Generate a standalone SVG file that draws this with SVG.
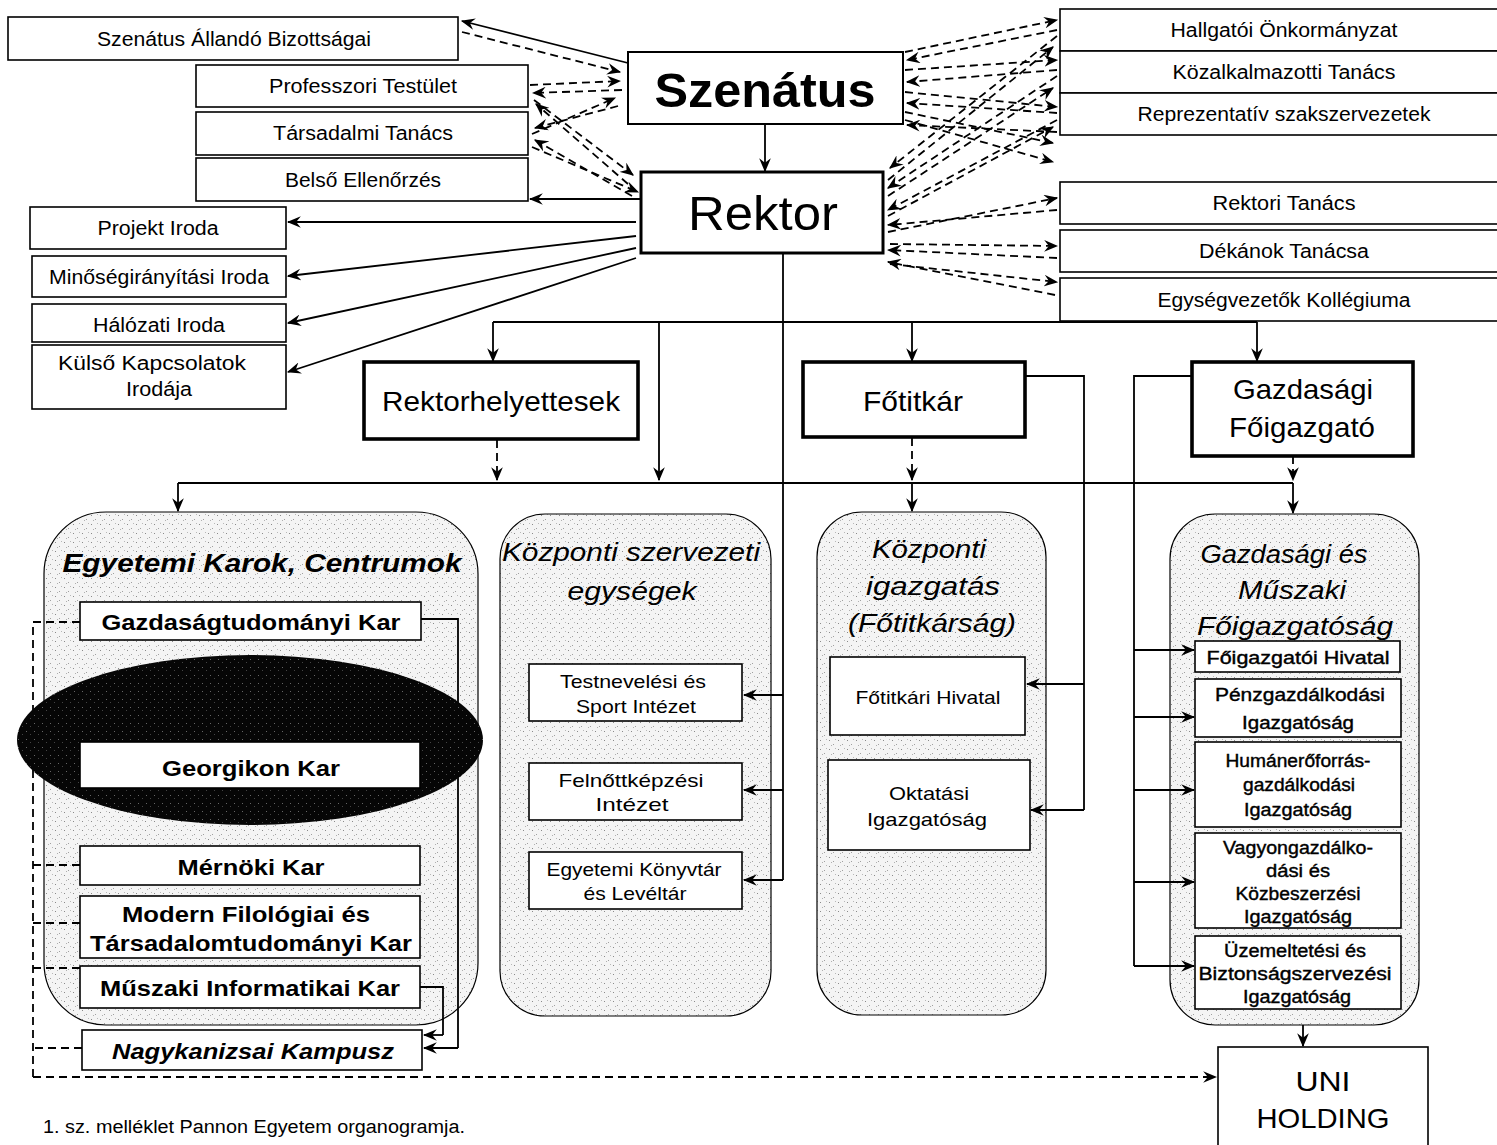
<svg xmlns="http://www.w3.org/2000/svg" width="1497" height="1145" viewBox="0 0 1497 1145">
  <defs>
    <style>
      text { font-family: "Liberation Sans", Arial, sans-serif; fill: #000; text-anchor: middle; }
      .box { fill: #fff; stroke: #000; stroke-width: 1.6; }
      .thick { fill: #fff; stroke: #000; stroke-width: 3.6; }
      .cont { fill: url(#stip); stroke: #000; stroke-width: 1.2; }
      .ln { fill: none; stroke: #000; stroke-width: 1.8; }
      .dash { stroke-dasharray: 8 5; }
      .arr { marker-end: url(#ah); }
      .t19 { font-size: 20px; }
      .t18 { font-size: 19px; }
      .med { font-size: 18px; stroke: #000; stroke-width: 0.4; }
      .kar { font-size: 22px; font-weight: bold; }
      .big { font-size: 28px; }
      .head { font-size: 26px; font-style: italic; }
    </style>
    <pattern id="stip" width="9" height="9" patternUnits="userSpaceOnUse">
      <rect width="9" height="9" fill="#f4f4f4"/>
      <rect x="1" y="2" width="1" height="1" fill="#8a8a8a"/>
      <rect x="5" y="6" width="1" height="1" fill="#a0a0a0"/>
      <rect x="7" y="1" width="1" height="1" fill="#b8b8b8"/>
      <rect x="3" y="7" width="1" height="1" fill="#b0b0b0"/>
    </pattern>
    <pattern id="dark" width="8" height="8" patternUnits="userSpaceOnUse">
      <rect width="8" height="8" fill="#060606"/>
      <rect x="2" y="3" width="1" height="1" fill="#666"/>
      <rect x="6" y="6" width="1" height="1" fill="#444"/>
    </pattern>
    <marker id="ah" viewBox="0 0 12 10" refX="11" refY="5" markerWidth="14" markerHeight="12" markerUnits="userSpaceOnUse" orient="auto">
      <path d="M0,0 L12,5 L0,10 L4,5 z" fill="#000"/>
    </marker>
  </defs>

  <rect width="1497" height="1145" fill="#fff"/>

  <!-- grouping containers -->
  <g id="karok-container"><rect class="cont" x="44" y="512" width="434" height="513" rx="62" ry="62"/></g>
  <g id="kozponti-szervezeti-container"><rect class="cont" x="500" y="514" width="271" height="502" rx="45" ry="45"/></g>
  <g id="kozponti-igazgatas-container"><rect class="cont" x="817" y="512" width="229" height="503" rx="45" ry="45"/></g>
  <g id="gazdasagi-container"><rect class="cont" x="1170" y="514" width="249" height="511" rx="45" ry="45"/></g>

  <!-- connectors -->
  <g id="connectors">
    <!-- Szenátus / Rektor to the left-hand bodies -->
    <path class="ln" d="M628,63 L462,21" marker-end="url(#ah)"/>
    <path class="ln dash arr" d="M462,32 L620,72"/>
    <path class="ln dash arr" d="M530,85 L620,81"/>
    <path class="ln dash arr" d="M622,90 L533,93"/>
    <path class="ln dash arr" d="M532,134 L615,98"/>
    <path class="ln dash arr" d="M618,106 L535,128"/>
    <path class="ln dash arr" d="M534,100 L633,175"/>
    <path class="ln dash arr" d="M628,184 L536,104"/>
    <path class="ln dash arr" d="M532,147 L638,192"/>
    <path class="ln dash arr" d="M632,196 L535,140"/>
    <path class="ln arr" d="M641,199 L530,199"/>
    <path class="ln arr" d="M636,222 L288,222"/>
    <path class="ln arr" d="M636,236 L288,276"/>
    <path class="ln arr" d="M636,248 L288,323"/>
    <path class="ln arr" d="M636,258 L288,372"/>

    <!-- Szenátus to right-hand bodies -->
    <path class="ln dash arr" d="M905,52 L1057,20"/>
    <path class="ln dash arr" d="M905,70 L1057,60"/>
    <path class="ln dash arr" d="M905,92 L1057,107"/>
    <path class="ln dash arr" d="M905,112 L1053,143"/>
    <path class="ln dash arr" d="M905,120 L1053,162"/>
    <path class="ln dash arr" d="M1057,30 L907,60"/>
    <path class="ln dash arr" d="M1057,70 L907,82"/>
    <path class="ln dash arr" d="M1057,113 L907,103"/>
    <path class="ln dash arr" d="M1057,132 L907,125"/>

    <!-- Rektor to right-hand bodies -->
    <path class="ln dash arr" d="M1057,36 L890,168"/>
    <path class="ln dash arr" d="M1057,76 L888,188"/>
    <path class="ln dash arr" d="M1057,120 L888,210"/>
    <path class="ln dash arr" d="M1057,210 L888,225"/>
    <path class="ln dash arr" d="M1057,258 L888,250"/>
    <path class="ln dash arr" d="M1055,295 L888,262"/>
    <path class="ln dash arr" d="M888,180 L1053,47"/>
    <path class="ln dash arr" d="M888,196 L1053,88"/>
    <path class="ln dash arr" d="M888,216 L1053,127"/>
    <path class="ln dash arr" d="M888,232 L1057,198"/>
    <path class="ln dash arr" d="M890,244 L1057,246"/>
    <path class="ln dash arr" d="M890,264 L1057,282"/>

    <!-- Szenátus down to Rektor -->
    <path class="ln arr" d="M765,124 L765,171"/>

    <!-- Rektor branch bar -->
    <path class="ln" d="M493,322 L1257,322"/>
    <path class="ln arr" d="M493,322 L493,361"/>
    <path class="ln arr" d="M659,322 L659,480"/>
    <path class="ln arr" d="M912,322 L912,361"/>
    <path class="ln arr" d="M1257,322 L1257,361"/>
    <path class="ln" d="M783,253 L783,880"/>

    <!-- Rektor to central units -->
    <path class="ln arr" d="M783,695 L744,695"/>
    <path class="ln arr" d="M783,790 L744,790"/>
    <path class="ln arr" d="M783,880 L744,880"/>

    <!-- second distribution bar -->
    <path class="ln" d="M178,483 L1293,483"/>
    <path class="ln arr" d="M178,483 L178,511"/>
    <path class="ln dash arr" d="M497,440 L497,480"/>
    <path class="ln dash arr" d="M912,438 L912,480"/>
    <path class="ln arr" d="M912,483 L912,511"/>
    <path class="ln dash arr" d="M1293,456 L1293,480"/>
    <path class="ln arr" d="M1293,483 L1293,513"/>

    <!-- Főtitkár to its offices -->
    <path class="ln" d="M1025,376 L1084,376 L1084,810"/>
    <path class="ln arr" d="M1084,684 L1027,684"/>
    <path class="ln arr" d="M1084,810 L1031,810"/>

    <!-- Gazdasági Főigazgató to its directorates -->
    <path class="ln" d="M1192,376 L1134,376 L1134,966"/>
    <path class="ln arr" d="M1134,650 L1194,650"/>
    <path class="ln arr" d="M1134,717 L1194,717"/>
    <path class="ln arr" d="M1134,790 L1194,790"/>
    <path class="ln arr" d="M1134,882 L1194,882"/>
    <path class="ln arr" d="M1134,966 L1194,966"/>
    <path class="ln arr" d="M1303,1025 L1303,1046"/>

    <!-- faculties to Nagykanizsa campus -->
    <path class="ln" d="M421,619 L458,619 L458,1048"/>
    <path class="ln arr" d="M458,1048 L424,1048"/>
    <path class="ln" d="M420,987 L443,987 L443,1035"/>
    <path class="ln arr" d="M443,1035 L424,1035"/>

    <!-- faculties to UNI HOLDING (dashed) -->
    <path class="ln dash" d="M80,622 L33,622 L33,1077"/>
    <path class="ln dash" d="M80,865 L33,865"/>
    <path class="ln dash" d="M80,923 L33,923"/>
    <path class="ln dash" d="M80,968 L33,968"/>
    <path class="ln dash" d="M82,1048 L33,1048"/>
    <path class="ln dash arr" d="M33,1077 L1216,1077"/>
  </g>

  <!-- Georgikon highlight -->
  <ellipse cx="250" cy="740" rx="233" ry="85" fill="url(#dark)"/>

  <!-- top left bodies -->
  <g id="szenatus-allando"><rect class="box" x="8" y="17" width="450" height="43"/><text class="t19" x="234" y="46" textLength="274" lengthAdjust="spacingAndGlyphs">Szenátus Állandó Bizottságai</text></g>
  <g id="professzori"><rect class="box" x="196" y="65" width="332" height="42"/><text class="t19" x="363" y="93" textLength="188" lengthAdjust="spacingAndGlyphs">Professzori Testület</text></g>
  <g id="tarsadalmi"><rect class="box" x="196" y="112" width="332" height="43"/><text class="t19" x="363" y="140" textLength="180" lengthAdjust="spacingAndGlyphs">Társadalmi Tanács</text></g>
  <g id="belso"><rect class="box" x="196" y="158" width="332" height="43"/><text class="t19" x="363" y="187" textLength="156" lengthAdjust="spacingAndGlyphs">Belső Ellenőrzés</text></g>
  <g id="projekt"><rect class="box" x="30" y="207" width="256" height="42"/><text class="t19" x="158" y="235" textLength="121" lengthAdjust="spacingAndGlyphs">Projekt Iroda</text></g>
  <g id="minoseg"><rect class="box" x="32" y="256" width="254" height="41"/><text class="t19" x="159" y="284" textLength="220" lengthAdjust="spacingAndGlyphs">Minőségirányítási Iroda</text></g>
  <g id="halozati"><rect class="box" x="32" y="304" width="254" height="38"/><text class="t19" x="159" y="332" textLength="132" lengthAdjust="spacingAndGlyphs">Hálózati Iroda</text></g>
  <g id="kulso"><rect class="box" x="32" y="345" width="254" height="64"/><text class="t19" x="152" y="370" textLength="188" lengthAdjust="spacingAndGlyphs">Külső Kapcsolatok</text><text class="t19" x="159" y="396" textLength="66" lengthAdjust="spacingAndGlyphs">Irodája</text></g>

  <!-- governing bodies -->
  <g id="szenatus"><rect class="box" x="628" y="52" width="275" height="72" style="stroke-width:2"/><text x="765" y="107" style="font-size:48px;font-weight:bold" textLength="221" lengthAdjust="spacingAndGlyphs">Szenátus</text></g>
  <g id="rektor"><rect class="box" x="641" y="172" width="242" height="81" style="stroke-width:3"/><text x="763" y="230" style="font-size:48px" textLength="150" lengthAdjust="spacingAndGlyphs">Rektor</text></g>

  <!-- top right bodies -->
  <g id="hallgatoi"><rect class="box" x="1060" y="9" width="440" height="42"/><text class="t19" x="1284" y="37" textLength="227" lengthAdjust="spacingAndGlyphs">Hallgatói Önkormányzat</text></g>
  <g id="kozalkalmazotti"><rect class="box" x="1060" y="51" width="440" height="42"/><text class="t19" x="1284" y="79" textLength="223" lengthAdjust="spacingAndGlyphs">Közalkalmazotti Tanács</text></g>
  <g id="reprezentativ"><rect class="box" x="1060" y="93" width="440" height="42"/><text class="t19" x="1284" y="121" textLength="293" lengthAdjust="spacingAndGlyphs">Reprezentatív szakszervezetek</text></g>
  <g id="rektori-tanacs"><rect class="box" x="1060" y="182" width="440" height="42"/><text class="t19" x="1284" y="210" textLength="143" lengthAdjust="spacingAndGlyphs">Rektori Tanács</text></g>
  <g id="dekanok"><rect class="box" x="1060" y="230" width="440" height="42"/><text class="t19" x="1284" y="258" textLength="170" lengthAdjust="spacingAndGlyphs">Dékánok Tanácsa</text></g>
  <g id="egysegvezetok"><rect class="box" x="1060" y="278" width="440" height="43"/><text class="t19" x="1284" y="307" textLength="253" lengthAdjust="spacingAndGlyphs">Egységvezetők Kollégiuma</text></g>

  <!-- second level leaders -->
  <g id="rektorhelyettesek"><rect class="thick" x="364" y="362" width="274" height="77"/><text class="big" x="501" y="411" textLength="238" lengthAdjust="spacingAndGlyphs">Rektorhelyettesek</text></g>
  <g id="fotitkar"><rect class="thick" x="803" y="362" width="222" height="75"/><text class="big" x="913" y="411" textLength="100" lengthAdjust="spacingAndGlyphs">Főtitkár</text></g>
  <g id="gazdasagi-foigazgato"><rect class="thick" x="1192" y="362" width="221" height="94"/><text class="big" x="1303" y="399" textLength="140" lengthAdjust="spacingAndGlyphs">Gazdasági</text><text class="big" x="1302" y="437" textLength="146" lengthAdjust="spacingAndGlyphs">Főigazgató</text></g>

  <!-- container titles -->
  <g id="karok-title"><text class="head" x="262" y="572" style="font-weight:bold" textLength="399" lengthAdjust="spacingAndGlyphs">Egyetemi Karok, Centrumok</text></g>
  <g id="kozponti-szervezeti-title"><text class="head" x="631" y="561" textLength="258" lengthAdjust="spacingAndGlyphs">Központi szervezeti</text><text class="head" x="632" y="600" textLength="129" lengthAdjust="spacingAndGlyphs">egységek</text></g>
  <g id="kozponti-igazgatas-title"><text class="head" x="929" y="558" textLength="114" lengthAdjust="spacingAndGlyphs">Központi</text><text class="head" x="933" y="595" textLength="134" lengthAdjust="spacingAndGlyphs">igazgatás</text><text class="head" x="932" y="632" textLength="168" lengthAdjust="spacingAndGlyphs">(Főtitkárság)</text></g>
  <g id="gazdasagi-title"><text class="head" x="1284" y="563" textLength="167" lengthAdjust="spacingAndGlyphs">Gazdasági és</text><text class="head" x="1292" y="599" textLength="108" lengthAdjust="spacingAndGlyphs">Műszaki</text><text class="head" x="1295" y="635" textLength="196" lengthAdjust="spacingAndGlyphs">Főigazgatóság</text></g>

  <!-- faculties -->
  <g id="gtk"><rect class="box" x="80" y="602" width="341" height="38"/><text class="kar" x="251" y="630" textLength="299" lengthAdjust="spacingAndGlyphs">Gazdaságtudományi Kar</text></g>
  <g id="georgikon"><rect class="box" x="80" y="742" width="340" height="46"/><text class="kar" x="251" y="776" textLength="178" lengthAdjust="spacingAndGlyphs">Georgikon Kar</text></g>
  <g id="mernoki"><rect class="box" x="80" y="846" width="340" height="39"/><text class="kar" x="251" y="875" textLength="147" lengthAdjust="spacingAndGlyphs">Mérnöki Kar</text></g>
  <g id="mftk"><rect class="box" x="80" y="896" width="340" height="62"/><text class="kar" x="246" y="922" textLength="248" lengthAdjust="spacingAndGlyphs">Modern Filológiai és</text><text class="kar" x="251" y="951" textLength="322" lengthAdjust="spacingAndGlyphs">Társadalomtudományi Kar</text></g>
  <g id="mik"><rect class="box" x="80" y="966" width="340" height="42"/><text class="kar" x="250" y="996" textLength="300" lengthAdjust="spacingAndGlyphs">Műszaki Informatikai Kar</text></g>
  <g id="nagykanizsa"><rect class="box" x="82" y="1030" width="340" height="40"/><text class="kar" x="253" y="1059" style="font-style:italic" textLength="282" lengthAdjust="spacingAndGlyphs">Nagykanizsai Kampusz</text></g>

  <!-- central organisational units -->
  <g id="testneveles"><rect class="box" x="529" y="664" width="213" height="57"/><text class="t18" x="633" y="688" textLength="146" lengthAdjust="spacingAndGlyphs">Testnevelési és</text><text class="t18" x="636" y="713" textLength="120" lengthAdjust="spacingAndGlyphs">Sport Intézet</text></g>
  <g id="felnottkepzes"><rect class="box" x="529" y="763" width="213" height="57"/><text class="t18" x="631" y="787" textLength="145" lengthAdjust="spacingAndGlyphs">Felnőttképzési</text><text class="t18" x="632" y="811" textLength="73" lengthAdjust="spacingAndGlyphs">Intézet</text></g>
  <g id="konyvtar"><rect class="box" x="529" y="852" width="213" height="57"/><text class="t18" x="634" y="876" textLength="175" lengthAdjust="spacingAndGlyphs">Egyetemi Könyvtár</text><text class="t18" x="635" y="900" textLength="103" lengthAdjust="spacingAndGlyphs">és Levéltár</text></g>

  <!-- central administration -->
  <g id="fotitkari-hivatal"><rect class="box" x="830" y="657" width="195" height="78"/><text class="t18" x="928" y="704" textLength="145" lengthAdjust="spacingAndGlyphs">Főtitkári Hivatal</text></g>
  <g id="oktatasi"><rect class="box" x="828" y="760" width="202" height="90"/><text class="t18" x="929" y="800" textLength="80" lengthAdjust="spacingAndGlyphs">Oktatási</text><text class="t18" x="927" y="826" textLength="120" lengthAdjust="spacingAndGlyphs">Igazgatóság</text></g>

  <!-- economic and technical directorates -->
  <g id="foigazgatoi-hivatal"><rect class="box" x="1195" y="641" width="205" height="31"/><text class="med" x="1298" y="664" textLength="183" lengthAdjust="spacingAndGlyphs">Főigazgatói Hivatal</text></g>
  <g id="penzgazdalkodasi"><rect class="box" x="1195" y="679" width="206" height="58"/><text class="med" x="1300" y="701" textLength="170" lengthAdjust="spacingAndGlyphs">Pénzgazdálkodási</text><text class="med" x="1298" y="729" textLength="112" lengthAdjust="spacingAndGlyphs">Igazgatóság</text></g>
  <g id="humaneroforras"><rect class="box" x="1195" y="742" width="206" height="85"/><text class="med" x="1298" y="767" textLength="145" lengthAdjust="spacingAndGlyphs">Humánerőforrás-</text><text class="med" x="1299" y="791" textLength="112" lengthAdjust="spacingAndGlyphs">gazdálkodási</text><text class="med" x="1298" y="816" textLength="108" lengthAdjust="spacingAndGlyphs">Igazgatóság</text></g>
  <g id="vagyongazdalkodasi"><rect class="box" x="1195" y="833" width="206" height="95"/><text class="med" x="1298" y="854" textLength="150" lengthAdjust="spacingAndGlyphs">Vagyongazdálko-</text><text class="med" x="1298" y="877" textLength="64" lengthAdjust="spacingAndGlyphs">dási és</text><text class="med" x="1298" y="900" textLength="125" lengthAdjust="spacingAndGlyphs">Közbeszerzési</text><text class="med" x="1298" y="923" textLength="108" lengthAdjust="spacingAndGlyphs">Igazgatóság</text></g>
  <g id="uzemeltetesi"><rect class="box" x="1195" y="936" width="206" height="73"/><text class="med" x="1295" y="957" textLength="142" lengthAdjust="spacingAndGlyphs">Üzemeltetési és</text><text class="med" x="1295" y="980" textLength="193" lengthAdjust="spacingAndGlyphs">Biztonságszervezési</text><text class="med" x="1297" y="1003" textLength="108" lengthAdjust="spacingAndGlyphs">Igazgatóság</text></g>

  <!-- holding company -->
  <g id="uni-holding"><rect class="box" x="1218" y="1047" width="210" height="110"/><text x="1323" y="1091" style="font-size:28px" textLength="55" lengthAdjust="spacingAndGlyphs">UNI</text><text x="1323" y="1128" style="font-size:28px" textLength="133" lengthAdjust="spacingAndGlyphs">HOLDING</text></g>

  <!-- caption -->
  <text x="43" y="1133" style="font-size:18px;text-anchor:start" textLength="422" lengthAdjust="spacingAndGlyphs">1. sz. melléklet Pannon Egyetem organogramja.</text>
</svg>
